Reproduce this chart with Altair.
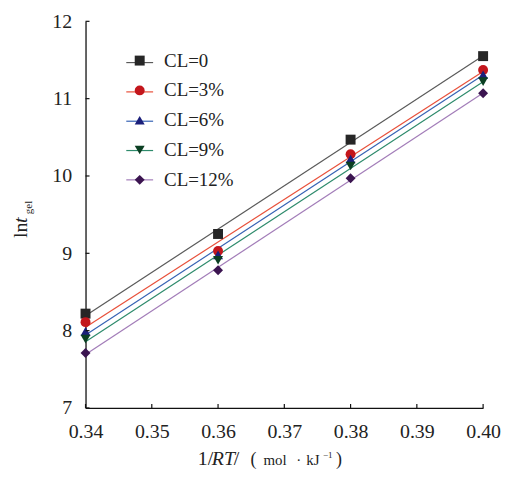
import altair as alt
import pandas as pd

# ---- data ----
x_vals = [0.34, 0.36, 0.38, 0.40]
categories = ["CL=0", "CL=3%", "CL=6%", "CL=9%", "CL=12%"]
cl0 = [8.22, 9.25, 10.47, 11.55]
cl3 = [8.11, 9.03, 10.28, 11.37]
cl6 = [7.99, 8.98, 10.22, 11.31]
cl9 = [7.89, 8.91, 10.13, 11.22]
cl12 = [7.71, 8.78, 9.97, 11.07]
series = [cl0, cl3, cl6, cl9, cl12]

x_ticks = [0.34, 0.35, 0.36, 0.37, 0.38, 0.39, 0.40]
y_ticks = [7, 8, 9, 10, 11, 12]

marker_colors = ["#262626", "#c3161c", "#1b1f7a", "#0b3f22", "#3b1450"]
line_colors = ["#5a5a5a", "#e8503a", "#3763b4", "#2e8b6c", "#a27cb8"]
shapes = ["square", "circle", "triangle-up", "triangle-down", "diamond"]

# keys for the fitted lines (their legend shows only the stroke sample)
line_keys = ["fit " + c for c in categories]

rows = []
for cat, key, vals in zip(categories, line_keys, series):
    for xv, yv in zip(x_vals, vals):
        rows.append({"x": xv, "y": yv, "line": key, "series": cat})
df = pd.DataFrame(rows)

FONT = "Liberation Serif"
W, H = 400, 389

xscale = alt.Scale(domain=[0.34, 0.40], nice=False, zero=False)
yscale = alt.Scale(domain=[7, 12], nice=False, zero=False)

xaxis = alt.Axis(values=x_ticks, format=".2f", title=None, tickSize=0, labelFlush=False,
                 labelOverlap=False, labelPadding=14, labelFontSize=20, labelFont=FONT,
                 labelColor="#222", domainColor="#111", domainWidth=1.3, grid=False)
yaxis = alt.Axis(values=y_ticks, title=None, tickSize=0, labelFlush=False,
                 labelOverlap=False, labelPadding=14, labelFontSize=20, labelFont=FONT,
                 labelColor="#222", domainColor="#111", domainWidth=1.3, grid=False)

base = alt.Chart(df)

lines = base.transform_regression(
    "x", "y", groupby=["line"], extent=[0.34, 0.40]
).mark_line(strokeWidth=1.2).encode(
    x=alt.X("x:Q", scale=xscale, axis=xaxis),
    y=alt.Y("y:Q", scale=yscale, axis=yaxis),
    stroke=alt.Stroke("line:N", scale=alt.Scale(domain=line_keys, range=line_colors),
                      legend=alt.Legend(orient="none", legendX=40, legendY=27, title=None,
                                        symbolType="stroke", symbolSize=729,
                                        symbolStrokeWidth=1.2, labelExpr="''",
                                        labelFontSize=1, labelOffset=0,
                                        rowPadding=12.5, zindex=1)),
)

pt_legend = alt.Legend(orient="none", legendX=45, legendY=30, title=None,
                       symbolSize=100, labelFontSize=19, labelFont=FONT, labelColor="#222",
                       labelOffset=15, rowPadding=10, symbolOpacity=1,
                       symbolStrokeWidth=0, zindex=2)

points = base.mark_point(filled=True, size=100, opacity=1, strokeWidth=0).encode(
    x=alt.X("x:Q", scale=xscale, axis=xaxis),
    y=alt.Y("y:Q", scale=yscale, axis=yaxis),
    fill=alt.Fill("series:N", scale=alt.Scale(domain=categories, range=marker_colors),
                  legend=pt_legend),
    shape=alt.Shape("series:N", scale=alt.Scale(domain=categories, range=shapes),
                    legend=pt_legend),
)

xt = alt.Chart(pd.DataFrame({"x": x_ticks})).mark_rule(color="#111", strokeWidth=1.2).encode(
    x=alt.X("x:Q", scale=xscale, axis=xaxis),
    y=alt.value(H), y2=alt.value(H - 4),
)
yt = alt.Chart(pd.DataFrame({"y": y_ticks})).mark_rule(color="#111", strokeWidth=1.2).encode(
    y=alt.Y("y:Q", scale=yscale, axis=yaxis),
    x=alt.value(0), x2=alt.value(4),
)

def txt(s, x, y, size, style="normal", angle=0):
    return alt.Chart(pd.DataFrame({"t": [s]})).mark_text(
        font=FONT, fontSize=size, fontStyle=style, align="left", baseline="alphabetic",
        color="#222", angle=angle
    ).encode(text="t:N", x=alt.value(x), y=alt.value(y))

# axis titles (pieces so that italics / sub / superscripts can be kept)
xtitle_parts = ["1/", "RT", "/", "(", "mol", "·", "kJ", "−1", ")"]
ytitle_parts = ["ln", "t", "gel"]

BL = 446
YB = -59
titles = [
    txt(xtitle_parts[0], 113, BL, 20),
    txt(xtitle_parts[1], 127, BL, 20, "italic"),
    txt(xtitle_parts[2], 149, BL, 20),
    txt(xtitle_parts[3], 166, BL, 18),
    txt(xtitle_parts[4], 179, BL, 15),
    txt(xtitle_parts[5], 212, BL, 15),
    txt(xtitle_parts[6], 222, BL, 15),
    txt(xtitle_parts[7], 239, BL - 7, 9),
    txt(xtitle_parts[8], 252, BL, 18),
    txt(ytitle_parts[0], YB, 218, 20, angle=270),
    txt(ytitle_parts[1], YB, 203, 20, "italic", angle=270),
    txt(ytitle_parts[2], YB + 5, 194, 11, angle=270),
]

chart = alt.layer(lines, points, xt, yt, *titles).properties(
    width=W, height=H,
    autosize=alt.AutoSizeParams(type="none"),
    padding={"left": 78, "top": 12, "right": 18, "bottom": 61},
).configure_view(stroke=None)

chart.save("out.html", embed_options={"renderer": "svg", "actions": False})
